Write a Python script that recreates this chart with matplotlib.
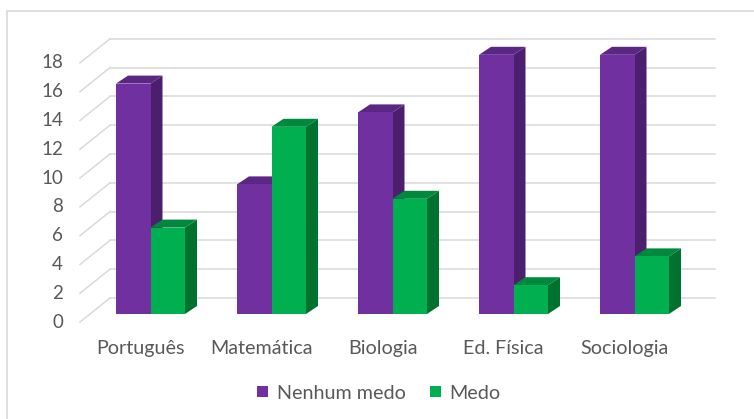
import numpy as np
import matplotlib
matplotlib.use("Agg")
import matplotlib.pyplot as plt
from matplotlib.patches import Polygon, Rectangle

plt.rcParams['font.family'] = ['Lato', 'DejaVu Sans']

# data
disciplinas = ['Português', 'Matemática', 'Biologia', 'Ed. Física', 'Sociologia']
nenhum_medo = [16, 9, 14, 18, 18]
medo = [6, 13, 8, 2, 4]
series_names = ['Nenhum medo', 'Medo']
yticks = np.arange(0, 20, 2)

# face colours: front, side, top
purple = ('#7030A0', '#4B1F6E', '#5B2785')
green = ('#00B050', '#00722F', '#00893C')
grid_c = '#D9D9D9'
text_c = '#595959'

W, H, DPI = 754, 419, 100
fig = plt.figure(figsize=(W / DPI, H / DPI), dpi=DPI)
ax = fig.add_axes([80 / W, 97 / H, 605 / W, 288 / H])
ax.set_xlim(-0.5, 4.5)
ax.set_ylim(0, 20)
ax.axis('off')

# pixel -> data unit factors
px_x = 5.0 / 605
px_y = 20.0 / 288

# depth offsets (right, up) in pixels
bar_off = (10 * px_x, 8 * px_y)
bar_depth = (12 * px_x, 8 * px_y)
wall_off = (30 * px_x, 24 * px_y)
bw = 34.5 * px_x

# back wall grid and side-wall diagonals
x0, x1 = ax.get_xlim()
for v in yticks:
    ax.plot([x0 + wall_off[0], x1 + wall_off[0]], [v + wall_off[1]] * 2,
            color=grid_c, lw=1.1, zorder=1, clip_on=False)
    ax.plot([x0, x0 + wall_off[0]], [v, v + wall_off[1]],
            color=grid_c, lw=1.1, zorder=1, clip_on=False)
    ax.text(x0 - 17 * px_x, v, str(v), ha='right', va='center',
            fontsize=13.5, color=text_c)


def bar3d(xl, h, cols, z):
    ox, oy = bar_off
    dx, dy = bar_depth
    l, r = xl + ox, xl + ox + bw
    b, t = oy, h + oy
    side = [(r, b), (r + dx, b + dy), (r + dx, t + dy), (r, t)]
    top = [(l, t), (l + dx, t + dy), (r + dx, t + dy), (r, t)]
    ax.add_patch(Polygon(side, closed=True, fc=cols[1], ec='none', zorder=z))
    ax.add_patch(Polygon(top, closed=True, fc=cols[2], ec='none', zorder=z))
    ax.add_patch(Rectangle((l, b), bw, h, fc=cols[0], ec='none', zorder=z + 0.5))


for i in range(len(disciplinas)):
    bar3d(i - bw, nenhum_medo[i], purple, 2)
    bar3d(i, medo[i], green, 3)
    ax.text(i, -26 * px_y, disciplinas[i], ha='center', va='center',
            fontsize=14.2, color=text_c)

# legend
handles = [Rectangle((0, 0), 1, 1, fc=purple[0]), Rectangle((0, 0), 1, 1, fc=green[0])]
leg = fig.legend(handles, series_names, loc='center', bbox_to_anchor=(379 / W, 1 - 393 / H),
                 ncol=2, frameon=False, fontsize=14.2, handlelength=0.55, handleheight=0.55,
                 handletextpad=0.45, columnspacing=1.2)
for t in leg.get_texts():
    t.set_color(text_c)

# chart area border
fig.patches.append(Rectangle((6.5 / W, -0.1), 1.2, 1.1 - 11.5 / H, transform=fig.transFigure,
                             fill=False, ec=grid_c, lw=1.2))

fig.savefig('out.png', dpi=DPI)
